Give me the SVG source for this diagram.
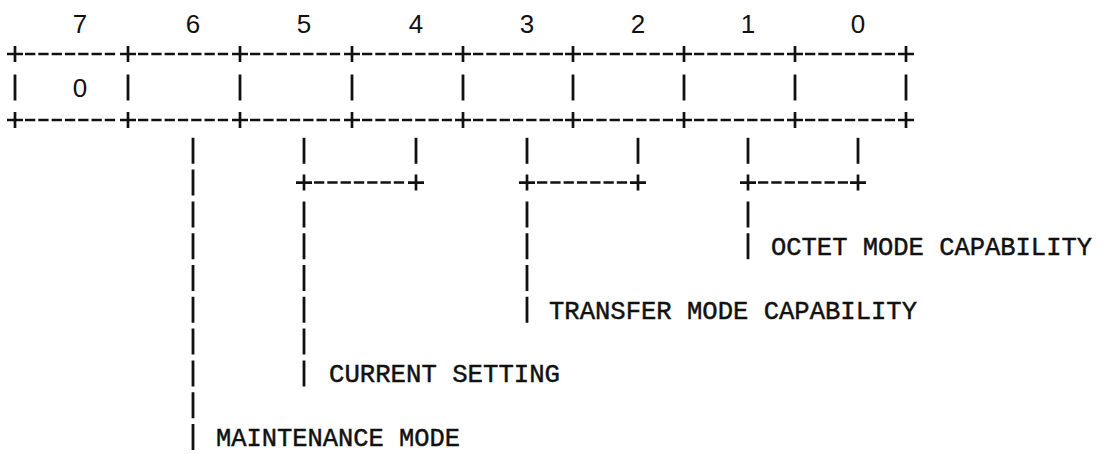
<svg xmlns="http://www.w3.org/2000/svg" xmlns:xlink="http://www.w3.org/1999/xlink" width="1112" height="454" viewBox="0 0 1112 454">
<style>
.ink{stroke:#111;stroke-width:2.7;fill:none;stroke-linecap:butt}
.dash{stroke:#111;stroke-width:2.5;fill:none;stroke-dasharray:10.3 3}
.bar{stroke:#111;stroke-width:2.8;fill:none}
.vdash{stroke:#111;stroke-width:2.8;fill:none;stroke-dasharray:26 5.8}
.digit{font-family:"Liberation Sans","DejaVu Sans",sans-serif;font-size:26px;fill:#111;text-anchor:middle}
.label{font-family:"Liberation Mono","DejaVu Sans Mono",monospace;font-size:25px;fill:#111;stroke:#111;stroke-width:0.45}
</style>
<defs>
<path id="plus" class="ink" d="M-8 0h16M0 -8v16"/>
<path id="vbar" class="bar" d="M0 -13v26"/>
</defs>
<rect width="1112" height="454" fill="#fff"/>

<g id="header">
<text class="digit" x="80" y="32.5">7</text>
<text class="digit" x="193" y="32.5">6</text>
<text class="digit" x="304" y="32.5">5</text>
<text class="digit" x="416" y="32.5">4</text>
<text class="digit" x="527" y="32.5">3</text>
<text class="digit" x="638" y="32.5">2</text>
<text class="digit" x="748" y="32.5">1</text>
<text class="digit" x="858" y="32.5">0</text>
</g>

<g id="octet">
<g id="frame-top">
<line class="dash" x1="25" y1="54" x2="118" y2="54"/>
<line class="dash" x1="138" y1="54" x2="230" y2="54"/>
<line class="dash" x1="250" y1="54" x2="342" y2="54"/>
<line class="dash" x1="362" y1="54" x2="453" y2="54"/>
<line class="dash" x1="473" y1="54" x2="563" y2="54"/>
<line class="dash" x1="583" y1="54" x2="674" y2="54"/>
<line class="dash" x1="694" y1="54" x2="785" y2="54"/>
<line class="dash" x1="805" y1="54" x2="896" y2="54"/>
<use xlink:href="#plus" x="15" y="54"/><use xlink:href="#plus" x="128" y="54"/><use xlink:href="#plus" x="240" y="54"/>
<use xlink:href="#plus" x="352" y="54"/><use xlink:href="#plus" x="463" y="54"/><use xlink:href="#plus" x="573" y="54"/>
<use xlink:href="#plus" x="684" y="54"/><use xlink:href="#plus" x="795" y="54"/><use xlink:href="#plus" x="906" y="54"/>
</g>
<g id="frame-sides">
<use xlink:href="#vbar" x="15" y="87.5"/><use xlink:href="#vbar" x="128" y="87.5"/><use xlink:href="#vbar" x="240" y="87.5"/>
<use xlink:href="#vbar" x="352" y="87.5"/><use xlink:href="#vbar" x="463" y="87.5"/><use xlink:href="#vbar" x="573" y="87.5"/>
<use xlink:href="#vbar" x="684" y="87.5"/><use xlink:href="#vbar" x="795" y="87.5"/><use xlink:href="#vbar" x="906" y="87.5"/>
</g>
<g id="frame-bottom">
<line class="dash" x1="25" y1="120" x2="118" y2="120"/>
<line class="dash" x1="138" y1="120" x2="230" y2="120"/>
<line class="dash" x1="250" y1="120" x2="342" y2="120"/>
<line class="dash" x1="362" y1="120" x2="453" y2="120"/>
<line class="dash" x1="473" y1="120" x2="563" y2="120"/>
<line class="dash" x1="583" y1="120" x2="674" y2="120"/>
<line class="dash" x1="694" y1="120" x2="785" y2="120"/>
<line class="dash" x1="805" y1="120" x2="896" y2="120"/>
<use xlink:href="#plus" x="15" y="120"/><use xlink:href="#plus" x="128" y="120"/><use xlink:href="#plus" x="240" y="120"/>
<use xlink:href="#plus" x="352" y="120"/><use xlink:href="#plus" x="463" y="120"/><use xlink:href="#plus" x="573" y="120"/>
<use xlink:href="#plus" x="684" y="120"/><use xlink:href="#plus" x="795" y="120"/><use xlink:href="#plus" x="906" y="120"/>
</g>
<g id="bit7"><text class="digit" x="80" y="96.5">0</text></g>
<g id="bit6"/>
<g id="bit5"/>
<g id="bit4"/>
<g id="bit3"/>
<g id="bit2"/>
<g id="bit1"/>
<g id="bit0"/>
</g>

<g id="connectors">
<g id="leader-bit6">
<line class="vdash" x1="193" y1="137.8" x2="193" y2="450"/>
</g>
<g id="bracket-bits5-4">
<use xlink:href="#vbar" x="304" y="150.8"/><use xlink:href="#vbar" x="416" y="150.8"/>
<line class="dash" x1="314" y1="182.6" x2="406" y2="182.6"/>
<use xlink:href="#plus" x="304" y="182.6"/><use xlink:href="#plus" x="416" y="182.6"/>
<line class="vdash" x1="304" y1="201.4" x2="304" y2="386.4"/>
</g>
<g id="bracket-bits3-2">
<use xlink:href="#vbar" x="527" y="150.8"/><use xlink:href="#vbar" x="638" y="150.8"/>
<line class="dash" x1="537" y1="182.6" x2="628" y2="182.6"/>
<use xlink:href="#plus" x="527" y="182.6"/><use xlink:href="#plus" x="638" y="182.6"/>
<line class="vdash" x1="527" y1="201.4" x2="527" y2="322.8"/>
</g>
<g id="bracket-bits1-0">
<use xlink:href="#vbar" x="748" y="150.8"/><use xlink:href="#vbar" x="858" y="150.8"/>
<line class="dash" x1="758" y1="182.6" x2="848" y2="182.6"/>
<use xlink:href="#plus" x="748" y="182.6"/><use xlink:href="#plus" x="858" y="182.6"/>
<line class="vdash" x1="748" y1="201.4" x2="748" y2="259.2"/>
</g>
</g>

<g id="label-octet-mode">
<text class="label" x="771" y="255" textLength="321" lengthAdjust="spacingAndGlyphs">OCTET MODE CAPABILITY</text>
</g>
<g id="label-transfer-mode">
<text class="label" x="549" y="318.5" textLength="368" lengthAdjust="spacingAndGlyphs">TRANSFER MODE CAPABILITY</text>
</g>
<g id="label-current-setting">
<text class="label" x="329" y="382" textLength="231" lengthAdjust="spacingAndGlyphs">CURRENT SETTING</text>
</g>
<g id="label-maintenance-mode">
<text class="label" x="216" y="445.5" textLength="244" lengthAdjust="spacingAndGlyphs">MAINTENANCE MODE</text>
</g>
</svg>
